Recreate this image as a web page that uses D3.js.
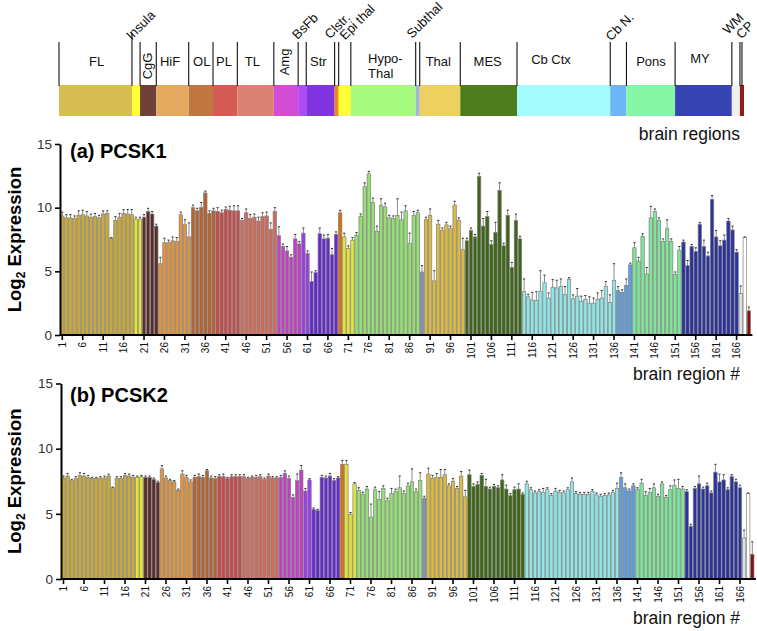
<!DOCTYPE html>
<html><head><meta charset="utf-8">
<script src="https://cdn.jsdelivr.net/npm/d3@7"></script>
<style>
body{margin:0;background:#fff}
text{font-family:"Liberation Sans",Arial,Helvetica,sans-serif}
</style>
</head><body>
<svg id="chart" width="757" height="631"></svg>
<script>
// ---------- DATA ----------
const regionNames = ["FL","Insula","CgG","HiF","OL","PL","TL","Amg","BsFb","Str","Clstr.","Epi thal","Hypo-Thal","Subthal","Thal","MES","Cb Ctx","Cb N.","Pons","MY","WM","CP"];
const regionCounts = [18,2,4,8,6,6,9,6,2,7,1,3,16,1,10,14,23,4,12,14,2,1];
const regionBandColors = ["#d6be52","#ffff33","#6f4139","#e3aa5f","#c07641","#d45b53","#da8173","#d24dd3","#b04cf5","#8135e0","#e68a1a","#ffff33","#a6fa7e","#a5b5d5","#edd160","#4c7c1b","#a3fbfb","#6cb6f7","#85f6a5","#3643b3","#eeeeee","#8e1b16"];
const regionBarColors = ["#c9a93a","#e6e62a","#5a2c2a","#df9440","#b6622e","#c94848","#d26a5a","#c23ec6","#9a3ee6","#6428d2","#d8700e","#e4e43a","#94e072","#7f90c4","#dcbb3e","#3d6616","#8fe6e6","#5c9ee0","#7ee698","#2a329e","#e2e2e2","#8a1010"];

const pcsk1 = [
9.35,9.2,9.2,9.15,9.4,9.45,9.35,9.25,9.3,9.2,
9.5,9.55,7.6,9.0,9.25,9.55,9.5,9.45,9.1,9.1,
9.25,9.7,9.5,8.55,5.6,7.25,7.25,7.4,7.35,9.45,
8.7,7.7,10.0,9.75,10.0,11.15,9.55,9.75,9.7,9.6,
9.85,9.8,9.75,9.75,9.0,9.6,9.15,9.25,8.95,9.3,
9.35,8.3,9.7,7.8,6.95,6.6,6.1,7.55,7.15,8.0,
6.4,4.2,4.9,7.95,7.55,7.6,6.3,7.9,9.6,7.7,
6.8,7.45,7.85,9.3,11.65,12.65,10.4,8.15,10.2,10.05,
9.2,9.15,9.4,9.05,9.75,7.2,9.4,9.6,4.95,9.05,
9.4,4.25,8.7,8.2,8.65,8.35,10.2,9.0,6.7,7.4,
8.2,7.7,12.45,8.55,9.3,7.1,8.05,11.35,7.0,9.4,
5.3,9.0,7.55,3.4,3.0,2.75,2.7,3.45,4.1,2.9,
3.75,3.7,3.8,3.2,4.35,2.85,3.05,2.65,2.8,2.5,
2.5,2.8,2.9,3.8,2.55,4.3,3.5,3.35,3.9,5.5,
6.85,5.8,7.75,4.8,9.2,9.7,9.0,7.35,8.35,7.35,
4.75,6.65,7.3,5.45,6.95,6.55,8.7,6.95,6.2,10.65,
7.7,7.0,7.45,8.95,8.25,6.5,3.25,7.65,1.9];
const pcsk1Err = [
0.3,0.25,0.25,0.2,0.35,0.35,0.35,0.25,0.25,0.2,
0.25,0.2,0.05,0.3,0.3,0.3,0.35,0.4,0.15,0.15,
0.2,0.25,0.2,0.15,0.5,0.35,0.2,0.3,0.3,0.2,
0.35,1.1,0.2,0.2,0.4,0.15,0.2,0.2,0.3,0.2,
0.2,0.3,0.4,0.4,0.15,0.3,0.3,0.25,0.3,0.3,
0.3,0.5,0.3,0.7,0.2,0.35,0.2,0.35,0.2,0.4,
0.2,0.75,0.15,0.45,0.3,0.3,0.5,0.2,0.2,0.3,
0.2,0.2,0.2,0.2,0.3,0.2,0.35,0.4,0.5,0.3,
0.2,0.2,1.3,0.6,0.4,0.8,0.3,0.2,0.5,0.2,
0.5,0.8,0.3,0.2,0.2,0.2,0.3,0.2,0.9,0.2,
0.2,0.2,0.25,0.6,0.4,0.3,0.8,0.6,0.2,0.4,
0.4,0.5,0.2,1.0,0.2,0.6,0.7,1.6,0.6,0.4,
0.6,0.6,0.6,0.6,0.15,0.3,0.6,0.4,0.3,0.5,
0.4,0.5,0.6,0.4,0.6,1.3,0.3,0.2,0.5,0.15,
0.4,0.3,0.2,0.5,0.9,0.2,0.2,0.2,0.7,0.2,
0.2,0.3,0.15,0.4,0.15,0.3,0.15,0.5,0.3,0.3,
0.5,0.4,0.4,0.2,0.3,0.2,0.6,0.05,0.3];

const pcsk2 = [
7.75,7.9,7.55,7.7,7.95,7.9,7.8,7.7,7.7,7.75,
7.75,7.9,7.0,7.7,7.7,7.95,7.9,7.8,7.8,7.85,
7.8,7.8,7.65,7.4,8.45,7.75,7.55,7.45,6.8,8.05,
7.8,7.45,7.8,7.85,7.8,8.3,7.75,7.7,7.85,7.85,
7.7,7.85,7.85,7.85,7.85,7.7,7.8,7.8,7.85,7.65,
7.9,7.75,7.75,7.8,8.1,7.7,6.25,7.55,8.35,6.75,
7.6,5.35,5.25,7.8,7.75,7.9,7.55,7.75,8.8,8.8,
4.95,7.3,6.8,6.5,6.9,4.75,6.85,6.1,6.95,6.0,
6.55,6.7,7.0,6.55,7.15,7.45,6.7,7.55,6.2,8.05,
7.75,7.8,7.8,8.0,7.15,7.5,6.95,7.9,6.3,8.0,
7.1,7.25,7.95,7.1,6.9,7.1,7.0,7.6,6.9,6.4,
6.85,6.9,6.5,7.3,6.85,6.6,6.7,6.65,6.85,6.4,
6.75,6.65,6.6,6.85,7.45,6.55,6.5,6.5,6.5,6.7,
6.45,6.35,6.4,6.45,6.65,6.95,7.8,7.0,6.75,7.15,
6.85,7.35,6.4,6.65,7.0,6.35,7.3,6.25,6.85,7.2,
6.95,6.9,6.7,4.05,6.95,7.3,6.9,7.15,6.6,8.2,
7.45,7.6,6.85,7.85,7.45,7.0,3.15,6.55,1.9];
const pcsk2Err = [
0.15,0.2,0.1,0.15,0.2,0.2,0.15,0.1,0.1,0.1,
0.15,0.15,0.05,0.15,0.15,0.15,0.15,0.15,0.1,0.1,
0.1,0.1,0.1,0.1,0.25,0.15,0.1,0.1,0.1,0.25,
0.15,0.15,0.15,0.2,0.15,0.1,0.15,0.15,0.15,0.2,
0.1,0.15,0.15,0.15,0.15,0.1,0.1,0.15,0.15,0.1,
0.15,0.1,0.1,0.15,0.2,0.2,0.2,0.5,0.35,0.2,
0.1,0.1,0.1,0.15,0.15,0.2,0.15,0.1,0.3,0.3,
0.15,0.1,0.2,0.15,0.2,1.0,0.2,0.6,0.2,0.2,
0.4,0.2,0.9,0.2,0.2,1.0,0.2,0.6,0.15,0.45,
0.2,0.3,0.6,0.4,0.15,0.2,0.15,0.35,0.5,0.35,
0.2,0.2,0.15,0.55,0.15,0.15,0.15,0.4,0.3,0.15,
0.2,0.4,0.1,0.2,0.15,0.15,0.15,0.3,0.15,0.15,
0.2,0.15,0.15,0.15,0.3,0.15,0.15,0.15,0.15,0.15,
0.15,0.15,0.15,0.15,0.15,0.4,0.35,0.3,0.15,0.15,
0.15,0.3,0.3,0.3,0.3,0.15,0.15,0.15,0.3,0.4,
0.7,0.2,0.15,0.15,0.15,0.6,0.15,0.2,0.15,0.6,
0.6,0.4,0.15,0.15,0.2,0.2,0.6,0.05,0.95];

const yTickValues = [0,5,10,15];
const xTickValues = d3.range(1, 167, 5); // 1,6,...,166

// ---------- DERIVED ----------
const sampleIds = d3.range(1, 170);
const sampleRegion = [];
regionCounts.forEach((c, r) => { for (let k = 0; k < c; k++) sampleRegion.push(r); });
const regionStart = [];
{ let s = 1; regionCounts.forEach(c => { regionStart.push(s); s += c; }); }

const svg = d3.select("#chart");

// ---------- TOP REGION BAND ----------
const xBand = d3.scaleBand().domain(sampleIds).range([59, 744]).padding(0);
const bandG = svg.append("g");
regionNames.forEach((name, r) => {
  const x0 = xBand(regionStart[r]);
  const w = xBand.step() * regionCounts[r];
  bandG.append("rect").attr("x", x0).attr("y", 85).attr("width", w).attr("height", 31)
    .attr("fill", regionBandColors[r]);
});
// separator / pointer lines
const lineXs = regionStart.map(s => xBand(s));
lineXs.push(xBand(169) + xBand.step() * 0.5);
lineXs.forEach((lx, i) => {
  bandG.append("line").attr("x1", lx).attr("x2", lx)
    .attr("y1", i === 1 ? 33 : 42).attr("y2", 86)
    .attr("stroke", "#111").attr("stroke-width", 1.1);
});
// labels
const hLabels = [["FL",96.7,65.5],["HiF",170,65.5],["OL",201.7,65.5],["PL",224,65.5],["TL",252.3,65.5],["Str",318.3,65.5],["Thal",438.3,65.5],["MES",487.7,65.5],["Cb Ctx",551,64],["Pons",651,65.5],["MY",700,63]];
hLabels.forEach(([t,x,y]) => bandG.append("text").attr("x",x).attr("y",y).attr("text-anchor","middle").attr("font-size",13).attr("fill","#111").text(t));
bandG.append("text").attr("x",368).attr("y",63).attr("font-size",13).attr("fill","#111").text("Hypo-");
bandG.append("text").attr("x",368).attr("y",77.5).attr("font-size",13).attr("fill","#111").text("Thal");
[["CgG",147,66],["Amg",284.5,62]].forEach(([t,x,y]) => bandG.append("text")
  .attr("transform",`translate(${x},${y}) rotate(-90)`).attr("text-anchor","middle")
  .attr("dy","0.35em").attr("font-size",13).attr("fill","#111").text(t));
const dLabels = [["Insula",131.5,40.5],["BsFb",297.5,40],["Clstr.",330,39.5],["Epi thal",345,40.5],["Subthal",412,39],["Cb N.",611,41.5],["WM",728,35],["CP",741.5,39.5]];
dLabels.forEach(([t,x,y]) => bandG.append("text")
  .attr("transform",`translate(${x},${y}) rotate(-45)`).attr("font-size",13).attr("fill","#111").text(t));
svg.append("text").attr("x",740).attr("y",139.5).attr("text-anchor","end").attr("font-size",17.5).attr("fill","#111").text("brain regions");

// ---------- PANELS ----------
function panel(opts) {
  const {values, errs, xRange, yRange, title, titleY, axisX, labelX, footY} = opts;
  const g = svg.append("g");
  const x = d3.scaleBand().domain(sampleIds).range(xRange).padding(0);
  const y = d3.scaleLinear().domain([0, 15]).range(yRange);
  const step = x.step();

  // bars
  g.selectAll("rect.bar").data(sampleIds).join("rect").attr("class","bar")
    .attr("x", d => x(d) + 0.35)
    .attr("width", step - 0.7)
    .attr("y", d => y(values[d-1]))
    .attr("height", d => y(0) - y(values[d-1]))
    .attr("fill", d => (d === 168 ? "#ffffff" : regionBarColors[sampleRegion[d-1]]))
    .attr("stroke", "#808080").attr("stroke-width", 0.7);

  // error bars
  g.selectAll("line.err").data(sampleIds).join("line").attr("class","err")
    .attr("x1", d => x(d) + step/2).attr("x2", d => x(d) + step/2)
    .attr("y1", d => y(values[d-1])).attr("y2", d => y(values[d-1] + errs[d-1]))
    .attr("stroke", "#8a8a8a").attr("stroke-width", 1);
  g.selectAll("line.cap").data(sampleIds).join("line").attr("class","cap")
    .attr("x1", d => x(d) + step/2 - 1.1).attr("x2", d => x(d) + step/2 + 1.1)
    .attr("y1", d => y(values[d-1] + errs[d-1])).attr("y2", d => y(values[d-1] + errs[d-1]))
    .attr("stroke", "#333").attr("stroke-width", 1);

  // y axis
  const ya = g.append("g").attr("transform", `translate(${axisX},0)`)
    .call(d3.axisLeft(y).tickValues(yTickValues).tickSize(5).tickSizeOuter(0).tickPadding(3));
  ya.select(".domain").attr("stroke","#000").attr("stroke-width",2);
  ya.selectAll(".tick line").attr("stroke","#000").attr("stroke-width",1.6);
  ya.selectAll(".tick text").attr("font-size",13.5).attr("fill","#333").attr("font-family",'"Liberation Sans",Arial,sans-serif');

  // x axis
  const xa = g.append("g").attr("transform", `translate(0,${y(0)})`)
    .call(d3.axisBottom(x).tickValues(xTickValues).tickSize(5).tickSizeOuter(0));
  xa.select(".domain").attr("stroke","#000").attr("stroke-width",2)
    .attr("d", `M${axisX},0H${xRange[1] + 1.5}`);
  xa.selectAll(".tick line").attr("stroke","#000").attr("stroke-width",1.6);
  xa.selectAll(".tick text").attr("font-size",10).attr("fill","#111")
    .attr("font-family",'"Liberation Sans",Arial,sans-serif')
    .attr("transform","rotate(-90)").attr("text-anchor","end")
    .attr("x",-7).attr("y",0).attr("dy","0.36em");

  // title
  g.append("text").attr("x",70).attr("y",titleY).attr("font-size",20).attr("font-weight","bold").attr("fill","#000").text(title);
  // y label
  const yl = g.append("text").attr("transform",`translate(${labelX},${(yRange[0]+yRange[1])/2}) rotate(-90)`)
    .attr("text-anchor","middle").attr("font-size",18.5).attr("font-weight","bold").attr("fill","#000");
  yl.append("tspan").text("Log");
  yl.append("tspan").attr("font-size",12).attr("dy",4).text("2");
  yl.append("tspan").attr("dy",-4).text(" Expression");
  // x label
  g.append("text").attr("x",740).attr("y",footY).attr("text-anchor","end").attr("font-size",17.5).attr("fill","#111").text("brain region #");
}

panel({values: pcsk1, errs: pcsk1Err, xRange: [60.25, 750.9], yRange: [335, 144],
  title: "(a) PCSK1", titleY: 158, axisX: 60, labelX: 21, footY: 380});
panel({values: pcsk2, errs: pcsk2Err, xRange: [61.45, 754.35], yRange: [579, 383.5],
  title: "(b) PCSK2", titleY: 401.5, axisX: 61, labelX: 21, footY: 624});
</script>
</body></html>
